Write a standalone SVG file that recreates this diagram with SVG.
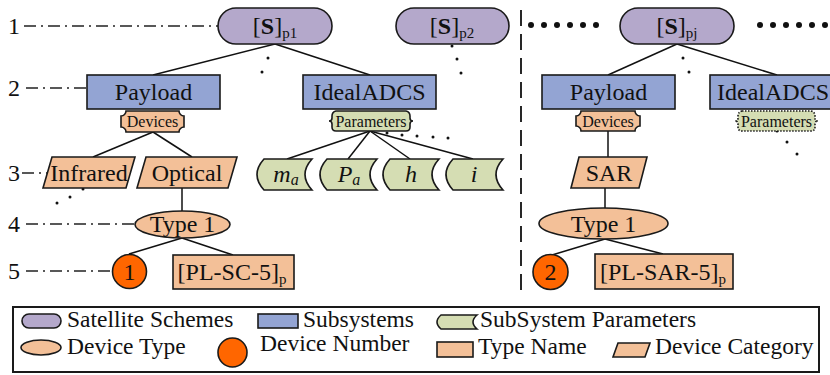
<svg xmlns="http://www.w3.org/2000/svg" width="830" height="375" viewBox="0 0 830 375">
  <style>
    text { font-family: "Liberation Serif", "Times New Roman", serif; fill: #111; }
    .t24 { font-size: 24px; }
    .lbl { font-size: 24px; }
    .tag { font-size: 16px; }
    .leg { font-size: 23.5px; }
    .mid { text-anchor: middle; }
    .scheme { fill: #B4A8CB; stroke: #1a1a1a; stroke-width: 1.6; }
    .subsys { fill: #93A4D3; stroke: #1a1a1a; stroke-width: 1.6; }
    .peach { fill: #F3C098; stroke: #1a1a1a; stroke-width: 1.6; }
    .green { fill: #D5DDB3; stroke: #1a1a1a; stroke-width: 1.6; }
    .greendot { fill: #D5DDB3; stroke: #1a1a1a; stroke-width: 1.6; stroke-dasharray: 1.5 1.5; }
    .num { fill: #FF6600; stroke: #1a1a1a; stroke-width: 1.6; }
    .edge { stroke: #111; stroke-width: 1.5; fill: none; }
    .level { stroke: #222; stroke-width: 1.3; stroke-dasharray: 12 5 2 5; fill: none; }
    .sep { stroke: #111; stroke-width: 1.8; stroke-dasharray: 16 8; fill: none; }
    .dot { fill: #111; }
    .it { font-style: italic; }
  </style>

  <!-- level rulers -->
  <g id="levels">
    <text class="lbl" x="8" y="34">1</text>
    <line class="level" x1="24" y1="26" x2="218" y2="26"/>
    <text class="lbl" x="8" y="96">2</text>
    <line class="level" x1="26" y1="88" x2="87" y2="88"/>
    <text class="lbl" x="8" y="181">3</text>
    <line class="level" x1="22" y1="173" x2="47" y2="173"/>
    <text class="lbl" x="8" y="232">4</text>
    <line class="level" x1="26" y1="224" x2="135" y2="224"/>
    <text class="lbl" x="8" y="279">5</text>
    <line class="level" x1="26" y1="271" x2="112" y2="271"/>
  </g>

  <!-- separator between scheme groups -->
  <line class="sep" x1="521" y1="10" x2="521" y2="290"/>

  <!-- connectors -->
  <g id="connectors">
    <line class="edge" x1="275" y1="44" x2="153" y2="75"/>
    <line class="edge" x1="275" y1="44" x2="370" y2="75"/>
    <line class="edge" x1="153" y1="132" x2="93" y2="157"/>
    <line class="edge" x1="153" y1="132" x2="192" y2="157"/>
    <line class="edge" x1="182" y1="188" x2="182" y2="211"/>
    <line class="edge" x1="182" y1="238" x2="129" y2="254"/>
    <line class="edge" x1="182" y1="238" x2="233" y2="255"/>
    <line class="edge" x1="370" y1="131" x2="287" y2="159"/>
    <line class="edge" x1="370" y1="131" x2="348" y2="159"/>
    <line class="edge" x1="370" y1="131" x2="410" y2="159"/>
    <line class="edge" x1="370" y1="131" x2="473" y2="159"/>
    <line class="edge" x1="677" y1="44" x2="608" y2="75"/>
    <line class="edge" x1="677" y1="44" x2="777" y2="75"/>
    <line class="edge" x1="608" y1="131" x2="608" y2="157"/>
    <line class="edge" x1="605" y1="188" x2="605" y2="208"/>
    <line class="edge" x1="605" y1="239" x2="552" y2="255"/>
    <line class="edge" x1="605" y1="239" x2="663" y2="254"/>
  </g>

  <!-- ellipsis dots -->
  <g id="ellipses">
    <circle class="dot" cx="268" cy="58" r="1.5"/>
    <circle class="dot" cx="262" cy="72" r="1.5"/>
    <circle class="dot" cx="452" cy="46" r="1.5"/>
    <circle class="dot" cx="457" cy="59" r="1.5"/>
    <circle class="dot" cx="461" cy="73" r="1.5"/>
    <circle class="dot" cx="683" cy="58" r="1.5"/>
    <circle class="dot" cx="689" cy="72" r="1.5"/>
    <circle class="dot" cx="387" cy="133" r="1.5"/>
    <circle class="dot" cx="402" cy="135" r="1.5"/>
    <circle class="dot" cx="417" cy="136" r="1.5"/>
    <circle class="dot" cx="433" cy="137" r="1.5"/>
    <circle class="dot" cx="448" cy="138" r="1.5"/>
    <circle class="dot" cx="83" cy="189" r="1.5"/>
    <circle class="dot" cx="70" cy="197" r="1.5"/>
    <circle class="dot" cx="57" cy="203" r="1.5"/>
    <circle class="dot" cx="777" cy="131" r="1.5"/>
    <circle class="dot" cx="787" cy="142" r="1.5"/>
    <circle class="dot" cx="797" cy="154" r="1.5"/>
    <circle class="dot" cx="531" cy="25" r="3"/>
    <circle class="dot" cx="544" cy="25" r="3"/>
    <circle class="dot" cx="557" cy="25" r="3"/>
    <circle class="dot" cx="570" cy="25" r="3"/>
    <circle class="dot" cx="583" cy="25" r="3"/>
    <circle class="dot" cx="596" cy="25" r="3"/>
    <circle class="dot" cx="760" cy="25" r="3"/>
    <circle class="dot" cx="773" cy="25" r="3"/>
    <circle class="dot" cx="786" cy="25" r="3"/>
    <circle class="dot" cx="799" cy="25" r="3"/>
    <circle class="dot" cx="812" cy="25" r="3"/>
    <circle class="dot" cx="825" cy="25" r="3"/>
  </g>

  <!-- satellite schemes -->
  <g id="scheme-p1">
    <rect class="scheme" x="218" y="8" width="114" height="36" rx="18"/>
    <text class="t24 mid" x="275" y="34">[<tspan font-weight="bold">S</tspan>]<tspan font-size="15" dy="4">p1</tspan></text>
  </g>
  <g id="scheme-p2">
    <rect class="scheme" x="396" y="8" width="113" height="36" rx="18"/>
    <text class="t24 mid" x="452" y="34">[<tspan font-weight="bold">S</tspan>]<tspan font-size="15" dy="4">p2</tspan></text>
  </g>
  <g id="scheme-pj">
    <rect class="scheme" x="620" y="8" width="114" height="36" rx="18"/>
    <text class="t24 mid" x="677" y="34">[<tspan font-weight="bold">S</tspan>]<tspan font-size="15" dy="4">pj</tspan></text>
  </g>

  <!-- subsystems -->
  <g id="payload-1">
    <rect class="subsys" x="87" y="75" width="133" height="34"/>
    <text class="t24 mid" x="153.5" y="100">Payload</text>
  </g>
  <g id="adcs-1">
    <rect class="subsys" x="303" y="75" width="133" height="34"/>
    <text class="t24 mid" x="369.5" y="100">IdealADCS</text>
  </g>
  <g id="payload-j">
    <rect class="subsys" x="542" y="75" width="133" height="34"/>
    <text class="t24 mid" x="608.5" y="100">Payload</text>
  </g>
  <g id="adcs-j">
    <rect class="subsys" x="710" y="75" width="133" height="34"/>
    <text class="t24 mid" x="773" y="100">IdealADCS</text>
  </g>

  <!-- device / parameter tags -->
  <g id="devices-1">
    <path class="peach" d="M126,111 L179,111 A5,5 0 0 0 184,116 L184,127 A5,5 0 0 0 179,132 L126,132 A5,5 0 0 0 121,127 L121,116 A5,5 0 0 0 126,111 Z"/>
    <text class="tag mid" x="152.5" y="127">Devices</text>
  </g>
  <g id="params-1">
    <path class="green" d="M336,111 L406,111 Q410,112 410,116 L410,118 Q410,121 413,121 Q410,121 410,124 L410,127 Q410,131 406,131 L336,131 Q332,131 332,127 L332,124 Q332,121 329,121 Q332,121 332,118 L332,116 Q332,112 336,111 Z"/>
    <text class="tag mid" x="371" y="127">Parameters</text>
  </g>
  <g id="devices-j">
    <path class="peach" d="M581,111 L635,111 A5,5 0 0 0 640,116 L640,126 A5,5 0 0 0 635,131 L581,131 A5,5 0 0 0 576,126 L576,116 A5,5 0 0 0 581,111 Z"/>
    <text class="tag mid" x="608" y="127">Devices</text>
  </g>
  <g id="params-j">
    <path class="greendot" d="M742,111 L811,111 Q815,112 815,116 L815,118 Q815,121 818,121 Q815,121 815,124 L815,127 Q815,131 811,131 L742,131 Q738,131 738,127 L738,124 Q738,121 735,121 Q738,121 738,118 L738,116 Q738,112 742,111 Z"/>
    <text class="tag mid" x="776.5" y="127">Parameters</text>
  </g>

  <!-- device categories -->
  <g id="cat-infrared">
    <polygon class="peach" points="52,157 135,157 126,188 43,188"/>
    <text class="t24 mid" x="89" y="181">Infrared</text>
  </g>
  <g id="cat-optical">
    <polygon class="peach" points="146,157 237,157 228,188 137,188"/>
    <text class="t24 mid" x="187" y="181">Optical</text>
  </g>
  <g id="cat-sar">
    <polygon class="peach" points="579,157 647,157 639,188 571,188"/>
    <text class="t24 mid" x="609" y="181">SAR</text>
  </g>

  <!-- subsystem parameters -->
  <g id="param-ma">
    <path class="green" d="M264,159 L312,159 Q298,174.5 312,190 L264,190 Q250,174.5 264,159 Z"/>
    <text class="t24 mid it" x="286" y="182">m<tspan font-size="16" dy="3">a</tspan></text>
  </g>
  <g id="param-pa">
    <path class="green" d="M327,159 L377,159 Q363,174.5 377,190 L327,190 Q313,174.5 327,159 Z"/>
    <text class="t24 mid it" x="349" y="182">P<tspan font-size="16" dy="3">a</tspan></text>
  </g>
  <g id="param-h">
    <path class="green" d="M390,159 L439,159 Q425,174.5 439,190 L390,190 Q376,174.5 390,159 Z"/>
    <text class="t24 mid it" x="411" y="182">h</text>
  </g>
  <g id="param-i">
    <path class="green" d="M453,159 L503,159 Q489,174.5 503,190 L453,190 Q439,174.5 453,159 Z"/>
    <text class="t24 mid it" x="474" y="182">i</text>
  </g>

  <!-- device types -->
  <g id="type-1a">
    <ellipse class="peach" cx="182.5" cy="224.5" rx="47.5" ry="13.5"/>
    <text class="t24 mid" x="182.5" y="232">Type 1</text>
  </g>
  <g id="type-1b">
    <ellipse class="peach" cx="603.5" cy="223.5" rx="64.5" ry="15.5"/>
    <text class="t24 mid" x="603.5" y="232">Type 1</text>
  </g>

  <!-- device numbers -->
  <g id="num-1">
    <circle class="num" cx="129.5" cy="271.5" r="17"/>
    <text class="t24 mid" x="129.5" y="280">1</text>
  </g>
  <g id="num-2">
    <circle class="num" cx="550.5" cy="272" r="17.5"/>
    <text class="t24 mid" x="550.5" y="280">2</text>
  </g>

  <!-- type names -->
  <g id="name-sc">
    <rect class="peach" x="173" y="255" width="121" height="34"/>
    <text class="t24 mid" x="232" y="280">[PL-SC-5]<tspan font-size="15" dy="4">p</tspan></text>
  </g>
  <g id="name-sar">
    <rect class="peach" x="595" y="254" width="138" height="35"/>
    <text class="t24 mid" x="663" y="280">[PL-SAR-5]<tspan font-size="15" dy="4">p</tspan></text>
  </g>

  <!-- legend -->
  <g id="legend">
    <rect x="13" y="307" width="806" height="65" fill="#fff" stroke="#1a1a1a" stroke-width="2"/>
    <rect class="scheme" x="22" y="314" width="39" height="14" rx="7"/>
    <text class="leg" x="67" y="327">Satellite Schemes</text>
    <rect class="subsys" x="258" y="314" width="40" height="14"/>
    <text class="leg" x="303" y="327">Subsystems</text>
    <path class="green" d="M441,315 L477,315 Q469,322 477,329 L441,329 Q433,322 441,315 Z"/>
    <text class="leg" x="480" y="327">SubSystem Parameters</text>
    <ellipse class="peach" cx="41" cy="347.5" rx="20" ry="7.5"/>
    <text class="leg" x="67" y="354">Device Type</text>
    <circle class="num" cx="232.5" cy="352.5" r="14.5"/>
    <text class="leg" x="260" y="351">Device Number</text>
    <rect class="peach" x="437" y="342" width="36" height="15"/>
    <text class="leg" x="478" y="354">Type Name</text>
    <polygon class="peach" points="618,343 650,343 645,357 613,357"/>
    <text class="leg" x="655" y="354">Device Category</text>
  </g>
</svg>
